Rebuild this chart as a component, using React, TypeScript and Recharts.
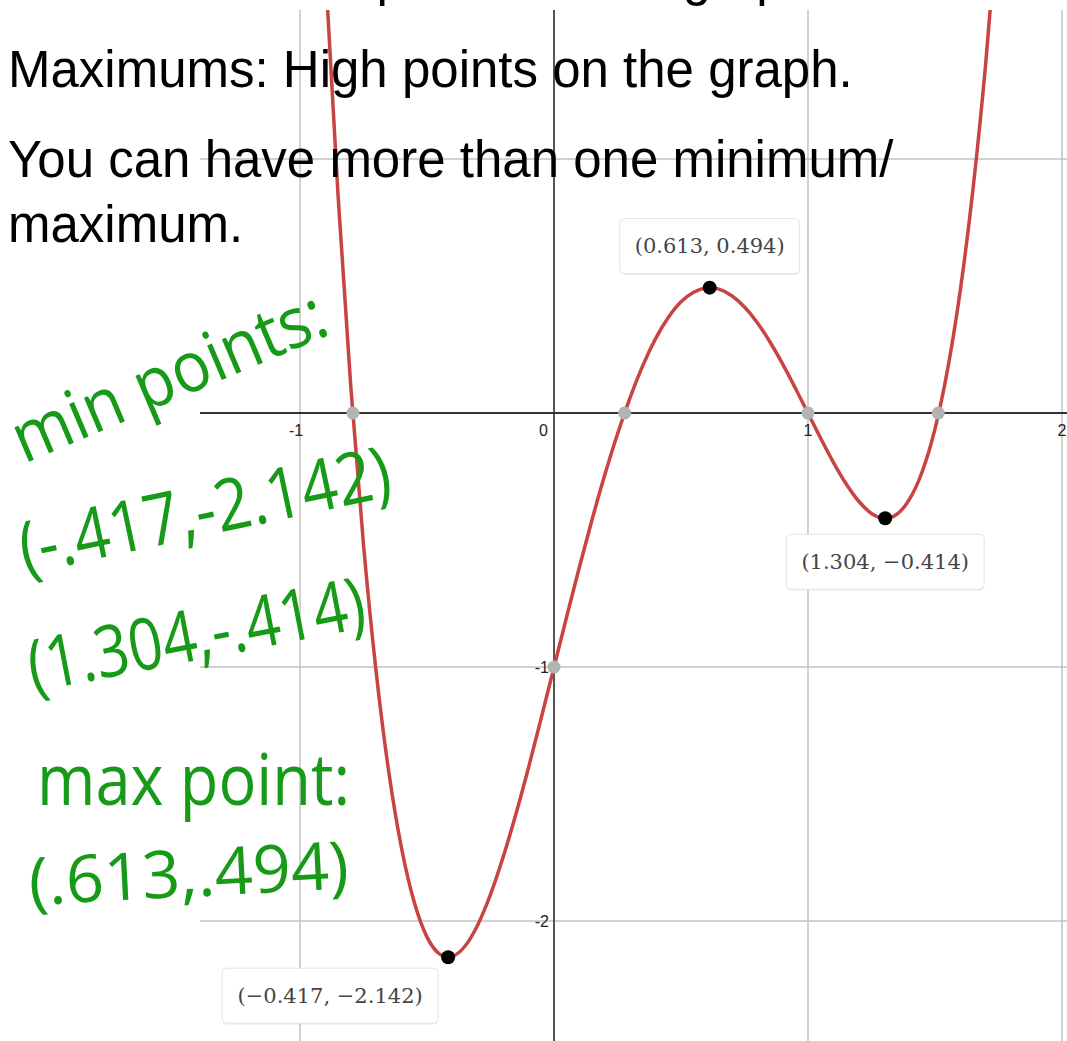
import React from 'react';
import { ComposedChart, Line, Scatter, XAxis, YAxis, ReferenceLine } from 'recharts';

const W = 1067;
const H = 1041;

// points along the red quartic
const curveX = [
  -0.9, -0.85, -0.8, -0.75, -0.7, -0.65, -0.6, -0.55, -0.5, -0.45, -0.417, -0.4, -0.35, -0.3,
  -0.25, -0.2, -0.15, -0.1, -0.05, 0, 0.05, 0.1, 0.15, 0.2, 0.25, 0.3, 0.35, 0.4, 0.45, 0.5,
  0.55, 0.6, 0.613, 0.65, 0.7, 0.75, 0.8, 0.85, 0.9, 0.95, 1.0, 1.05, 1.1, 1.15, 1.2, 1.25,
  1.304, 1.35, 1.4, 1.45, 1.5, 1.55, 1.6, 1.65, 1.7, 1.75,
];
const curveY = [
  1.742, 0.851, 0.101, -0.52, -1.022, -1.417, -1.715, -1.927, -2.063, -2.13, -2.142, -2.139,
  -2.098, -2.014, -1.895, -1.747, -1.578, -1.394, -1.199, -1, -0.801, -0.606, -0.419, -0.243,
  -0.082, 0.062, 0.188, 0.293, 0.376, 0.438, 0.476, 0.493, 0.494, 0.488, 0.462, 0.418, 0.357,
  0.281, 0.194, 0.099, 0, -0.099, -0.194, -0.278, -0.347, -0.395, -0.414, -0.398, -0.339,
  -0.23, -0.063, 0.173, 0.485, 0.883, 1.378, 1.98,
];

const rootX = [-0.792, 0.278, 1, 1.513];
const yIntercept = -1;
const extremaX = [-0.417, 0.613, 1.304];
const extremaY = [-2.142, 0.494, -0.414];

const xTicks = [-1, 0, 1, 2];
const yTicks = [-2, -1];
const gridX = [-1, 1, 2];
const gridY = [-2, -1, 1];

const curve = curveX.map((x, i) => ({ x, y: curveY[i] }));
const crossings = [...rootX.map((x) => ({ x, y: 0 })), { x: 0, y: yIntercept }];
const extrema = extremaX.map((x, i) => ({ x, y: extremaY[i] }));
const xTickData = xTicks.map((x) => ({ x, y: 0 }));
const yTickData = yTicks.map((y) => ({ x: 0, y }));

const fmt = (v: number) => (v < 0 ? '\u2212' : '') + Math.abs(v).toFixed(3);

const GrayDot = (props: any) => <circle cx={props.cx} cy={props.cy} r={6.5} fill="#b3b3b3" />;

const XTickLabel = (props: any) => {
  const { cx, cy, payload } = props;
  const zero = payload.x === 0;
  return (
    <text
      x={zero ? cx - 6 : cx - (payload.x < 0 ? 4 : 0)}
      y={cy + 23}
      textAnchor={zero ? 'end' : 'middle'}
      fontFamily="'Liberation Sans', Arial, sans-serif"
      fontSize={16}
      fill="#222"
    >
      {payload.x < 0 ? `-${Math.abs(payload.x)}` : payload.x}
    </text>
  );
};

const YTickLabel = (props: any) => {
  const { cx, cy, payload } = props;
  return (
    <text
      x={cx - 5}
      y={cy + 6}
      textAnchor="end"
      fontFamily="'Liberation Sans', Arial, sans-serif"
      fontSize={16}
      fill="#222"
    >
      {`-${Math.abs(payload.y)}`}
    </text>
  );
};

// black point with its coordinate box
const Extremum = (props: any) => {
  const { cx, cy, payload } = props;
  const text = `(${fmt(payload.x)}, ${fmt(payload.y)})`;
  const w = text.length * 18 - 72;
  const h = 55;
  let bx = cx - w / 2;
  let by = cy + 16;
  if (payload.y > 0) by = cy - 14 - h;
  else if (payload.x < 0) {
    bx = cx - 10 - w;
    by = cy + 11;
  }
  return (
    <g>
      <rect x={bx} y={by + 1.5} width={w} height={h} rx={5} fill="rgba(0,0,0,0.06)" />
      <rect x={bx} y={by} width={w} height={h} rx={5} fill="#fff" stroke="#e3e3e3" strokeWidth={1} />
      <text
        x={bx + w / 2}
        y={by + h / 2 + 7}
        textAnchor="middle"
        fontFamily="'DejaVu Serif', serif"
        fontSize={21}
        fill="#444"
      >
        {text}
      </text>
      <circle cx={cx} cy={cy} r={7} fill="#000" />
    </g>
  );
};

export default function App() {
  return (
    <div style={{ position: 'absolute', left: 0, top: 0, width: W, height: H, background: '#fff', overflow: 'hidden' }}>
      <ComposedChart width={W} height={H} margin={{ top: 10, right: 0, bottom: 0, left: 200 }}>
        <XAxis dataKey="x" type="number" domain={[-1.394, 2.02]} allowDataOverflow hide />
        <YAxis dataKey="y" type="number" domain={[-2.472, 1.587]} allowDataOverflow hide />
        {gridX.map((v) => (
          <ReferenceLine key={`gx${v}`} x={v} stroke="#c2c2c2" strokeWidth={1.5} />
        ))}
        {gridY.map((v) => (
          <ReferenceLine key={`gy${v}`} y={v} stroke="#c2c2c2" strokeWidth={1.5} />
        ))}
        <ReferenceLine x={0} stroke="#555" strokeWidth={2} />
        <ReferenceLine y={0} stroke="#333" strokeWidth={2} />
        <Scatter data={xTickData} shape={XTickLabel} isAnimationActive={false} />
        <Scatter data={yTickData} shape={YTickLabel} isAnimationActive={false} />
        <Line
          data={curve}
          dataKey="y"
          type="monotone"
          stroke="#c74440"
          strokeWidth={3.5}
          dot={false}
          isAnimationActive={false}
        />
        <Scatter data={crossings} shape={GrayDot} isAnimationActive={false} />
        <Scatter data={extrema} shape={Extremum} isAnimationActive={false} />
      </ComposedChart>
      <svg width={W} height={H} style={{ position: 'absolute', left: 0, top: 0, pointerEvents: 'none' }}>
        <g fontFamily="'Liberation Sans', Arial, sans-serif" fontSize={51} fill="#000">
          <text x={8} y={-5}>Minimums: Low points on the graph.</text>
          <text x={8} y={87}>Maximums: High points on the graph.</text>
          <text x={8} y={177}>You can have more than one minimum/</text>
          <text x={8} y={242}>maximum.</text>
        </g>
        <g fontFamily="'Open Sans', 'Noto Sans', sans-serif" fill="#179a17">
          <text transform="translate(24 464) rotate(-23)" fontSize={70} textLength={335} lengthAdjust="spacingAndGlyphs">
            min points:
          </text>
          <text transform="translate(25 574) rotate(-12)" fontSize={72} textLength={378} lengthAdjust="spacingAndGlyphs">
            (-.417,-2.142)
          </text>
          <text transform="translate(33 692) rotate(-11)" fontSize={72} textLength={342} lengthAdjust="spacingAndGlyphs">
            (1.304,-.414)
          </text>
          <text x={37} y={805} fontSize={72} textLength={313} lengthAdjust="spacingAndGlyphs">
            max point:
          </text>
          <text transform="translate(30 905) rotate(-3)" fontSize={66} textLength={320} lengthAdjust="spacingAndGlyphs">
            (.613,.494)
          </text>
        </g>
      </svg>
    </div>
  );
}
